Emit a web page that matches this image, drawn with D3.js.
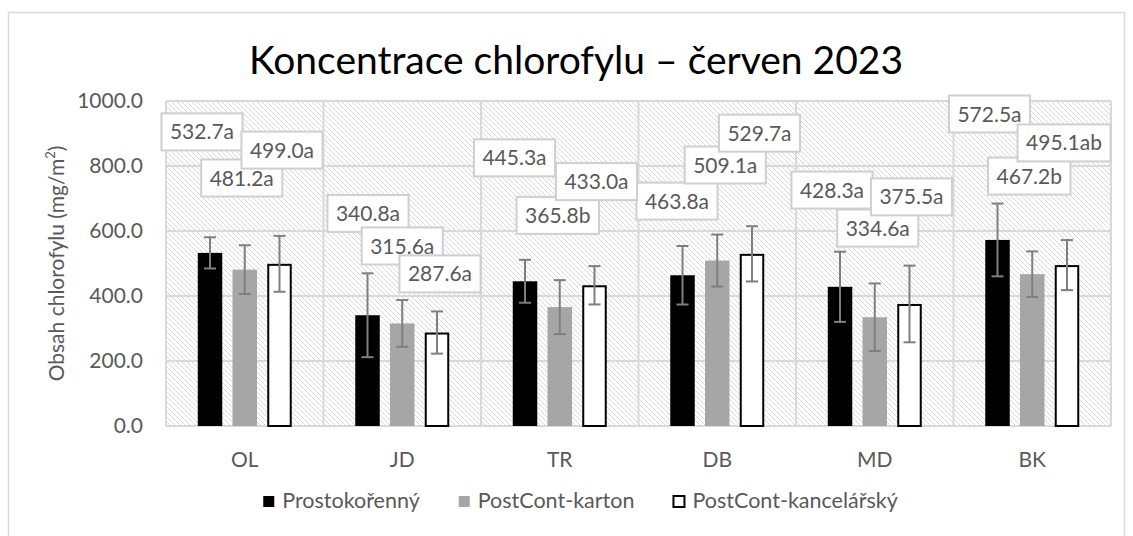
<!DOCTYPE html>
<html>
<head>
<meta charset="utf-8">
<script src="https://cdn.jsdelivr.net/npm/d3@7"></script>
<style>
  body { margin: 0; background: #fff; }
  svg { font-family: Lato, "Open Sans", sans-serif; }
</style>
</head>
<body>
<svg id="Vis" width="1133" height="536"></svg>
<script>
// chart values
const sites = ["OL", "JD", "TR", "DB", "MD", "BK"];
const seriesNames = ["Prostokořenný", "PostCont-karton", "PostCont-kancelářský"];
const prostokorenny = [532.7, 340.8, 445.3, 463.8, 428.3, 572.5];
const postKarton = [481.2, 315.6, 365.8, 509.1, 334.6, 467.2];
const postKancelar = [499.0, 287.6, 433.0, 529.7, 375.5, 495.1];
const errProstokorenny = [48, 129, 66, 90, 108, 112];
const errKarton = [75, 72, 83, 80, 104, 70];
const errKancelar = [86, 65, 59, 85, 118, 77];
const sigProstokorenny = ["a", "a", "a", "a", "a", "a"];
const sigKarton = ["a", "a", "b", "a", "a", "b"];
const sigKancelar = ["a", "a", "a", "a", "a", "ab"];
const yTicks = [0, 200, 400, 600, 800, 1000];

// hand-placed data labels (as in the original): x shift in px, y as value
const labelDx = [
  [-8, 0.5, -10.5, -5.5, -8, -8],
  [-3, 0, -2, 8, 3, -3],
  [2.5, 3, 2, 7.5, 2, -3]
];
const labelY = [
  [905, 654, 825, 692, 726, 960],
  [763, 554, 648, 803, 609, 769],
  [849, 468, 752, 901, 705, 871]
];

const margin = { top: 101, bottom: 110, left: 166, right: 22 };
const width = 1133, height = 536;

let svg = d3.select("body").select("svg#Vis");
const plotWidth = width - margin.left - margin.right;
const plotHeight = height - margin.top - margin.bottom;

const defs = svg.append("defs");
defs.append("pattern")
    .attr("id", "hatch")
    .attr("patternUnits", "userSpaceOnUse")
    .attr("width", 5).attr("height", 5)
  .append("path")
    .attr("d", "M-1,-1L6,6M-1,4L1,6M4,-1L6,1")
    .attr("stroke", "#d9d9d9")
    .attr("stroke-width", 1);

// chart frame
svg.append("rect")
  .attr("x", 8.5).attr("y", 12.5)
  .attr("width", 1116).attr("height", 560)
  .attr("fill", "none").attr("stroke", "#d9d9d9").attr("stroke-width", 1.5);

svg.append("text")
  .attr("x", 576).attr("y", 74)
  .attr("text-anchor", "middle")
  .attr("font-size", 39)
  .attr("fill", "#000")
  .text("Koncentrace chlorofylu – červen 2023");

const plot = svg.append("g").attr("id", "plot")
  .attr("transform", translate(margin.left, margin.top));

drawChart();

function drawChart() {
  const data = sites.map((s, i) => ({
    site: s,
    values: [
      { k: 0, v: prostokorenny[i], e: errProstokorenny[i], sig: sigProstokorenny[i] },
      { k: 1, v: postKarton[i], e: errKarton[i], sig: sigKarton[i] },
      { k: 2, v: postKancelar[i], e: errKancelar[i], sig: sigKancelar[i] }
    ]
  }));

  /* SCALES */
  const xScale = d3.scaleBand().domain(sites).range([0, plotWidth]);
  const inner = d3.scaleBand()
    .domain([0, 1, 2])
    .range([0, xScale.bandwidth()])
    .paddingInner(0.295)
    .paddingOuter(0.914);
  const yScale = d3.scaleLinear().domain([0, 1000]).range([plotHeight, 0]);

  // background hatch
  plot.append("rect")
    .attr("width", plotWidth).attr("height", plotHeight)
    .attr("fill", "url(#hatch)");

  /* GRID */
  const grid = plot.append("g").attr("id", "grid")
    .attr("stroke", "#d9d9d9").attr("stroke-width", 2);
  grid.selectAll("line.h").data(yTicks).enter().append("line")
    .attr("class", "h")
    .attr("x1", 0).attr("x2", plotWidth)
    .attr("y1", d => yScale(d)).attr("y2", d => yScale(d));
  const bounds = sites.map(s => xScale(s)).concat([plotWidth]);
  grid.selectAll("line.v").data(bounds).enter().append("line")
    .attr("class", "v")
    .attr("y1", 0).attr("y2", plotHeight)
    .attr("x1", d => d).attr("x2", d => d);

  /* AXES */
  const yAxis = d3.axisLeft(yScale).tickValues(yTicks).tickSize(0).tickPadding(23)
    .tickFormat(d3.format(".1f"));
  const yGroup = plot.append("g").attr("id", "y-axis").call(yAxis);
  yGroup.select(".domain").remove();
  yGroup.selectAll("text")
    .attr("font-size", 21).attr("fill", "#595959")
    .attr("font-family", "Lato, sans-serif");

  const xAxis = d3.axisBottom(xScale).tickSize(0).tickPadding(26);
  const xGroup = plot.append("g").attr("id", "x-axis")
    .attr("transform", translate(0, plotHeight)).call(xAxis);
  xGroup.select(".domain").remove();
  xGroup.selectAll("text")
    .attr("font-size", 21).attr("fill", "#595959")
    .attr("font-family", "Lato, sans-serif");

  // y axis title
  const yTitle = svg.append("text")
    .attr("transform", translate(64, margin.top + plotHeight / 2) + " rotate(-90)")
    .attr("text-anchor", "middle")
    .attr("font-size", 21)
    .attr("fill", "#595959");
  yTitle.append("tspan").text("Obsah chlorofylu (mg/m");
  yTitle.append("tspan").attr("font-size", 13).attr("dy", -9).text("2");
  yTitle.append("tspan").attr("dy", 9).text(")");

  /* BARS */
  const fills = ["#000000", "#a6a6a6", "#ffffff"];
  const groups = plot.selectAll("g.site").data(data).enter().append("g")
    .attr("class", "site")
    .attr("transform", d => translate(xScale(d.site), 0));

  groups.selectAll("rect").data(d => d.values).enter().append("rect")
    .attr("x", d => inner(d.k) + (d.k == 2 ? 1 : 0))
    .attr("y", d => yScale(d.v) + (d.k == 2 ? 1 : 0))
    .attr("width", d => inner.bandwidth() - (d.k == 2 ? 2 : 0))
    .attr("height", d => plotHeight - yScale(d.v) - (d.k == 2 ? 1 : 0))
    .attr("fill", d => fills[d.k])
    .attr("stroke", d => d.k == 2 ? "#000" : "none")
    .attr("stroke-width", 2);

  // error bars
  const err = groups.selectAll("g.err").data(d => d.values).enter().append("g")
    .attr("class", "err")
    .attr("stroke", "#7f7f7f").attr("stroke-width", 2)
    .attr("transform", d => translate(inner(d.k) + inner.bandwidth() / 2, 0));
  err.append("line")
    .attr("y1", d => yScale(d.v + d.e)).attr("y2", d => yScale(d.v - d.e));
  err.append("line")
    .attr("x1", -6).attr("x2", 6)
    .attr("y1", d => yScale(d.v + d.e)).attr("y2", d => yScale(d.v + d.e));
  err.append("line")
    .attr("x1", -6).attr("x2", 6)
    .attr("y1", d => yScale(d.v - d.e)).attr("y2", d => yScale(d.v - d.e));

  drawLabels(data, xScale, inner, yScale);
  drawLegend(fills);
}

/*
 * data labels with a boxed background, drawn series by series
 */
function drawLabels(data, xScale, inner, yScale) {
  const layer = plot.append("g").attr("id", "labels");
  [0, 1, 2].forEach(k => {
    data.forEach((d, i) => {
      const item = d.values[k];
      const cx = xScale(d.site) + inner(k) + inner.bandwidth() / 2 + labelDx[k][i];
      const cy = yScale(labelY[k][i]);
      const g = layer.append("g").attr("transform", translate(cx, cy));
      const box = g.append("rect");
      const t = g.append("text")
        .attr("text-anchor", "middle")
        .attr("dy", "0.36em")
        .attr("font-size", 21)
        .attr("fill", "#595959")
        .text(item.v.toFixed(1) + item.sig);
      const w = t.node().getComputedTextLength() + 17;
      box.attr("x", -w / 2).attr("y", -18.5)
        .attr("width", w).attr("height", 37)
        .attr("fill", "#fff")
        .attr("stroke", "#cfcfcf").attr("stroke-width", 2);
    });
  });
}

function drawLegend(fills) {
  const legend = svg.append("g").attr("id", "legend");
  let x = 0;
  seriesNames.forEach((name, k) => {
    const g = legend.append("g");
    g.append("rect")
      .attr("x", 1).attr("y", -12).attr("width", 11).attr("height", 11)
      .attr("fill", fills[k])
      .attr("stroke", k == 2 ? "#000" : "none").attr("stroke-width", 2);
    const t = g.append("text")
      .attr("x", 20).attr("font-size", 21.5).attr("fill", "#595959")
      .text(name);
    g.attr("transform", translate(x, 0));
    x += 20 + t.node().getComputedTextLength() + 38;
  });
  const total = x - 38;
  legend.attr("transform", translate(580 - total / 2, 508));
}

function translate(x, y) {
  return 'translate(' + String(x) + ',' + String(y) + ')';
}
</script>
</body>
</html>
